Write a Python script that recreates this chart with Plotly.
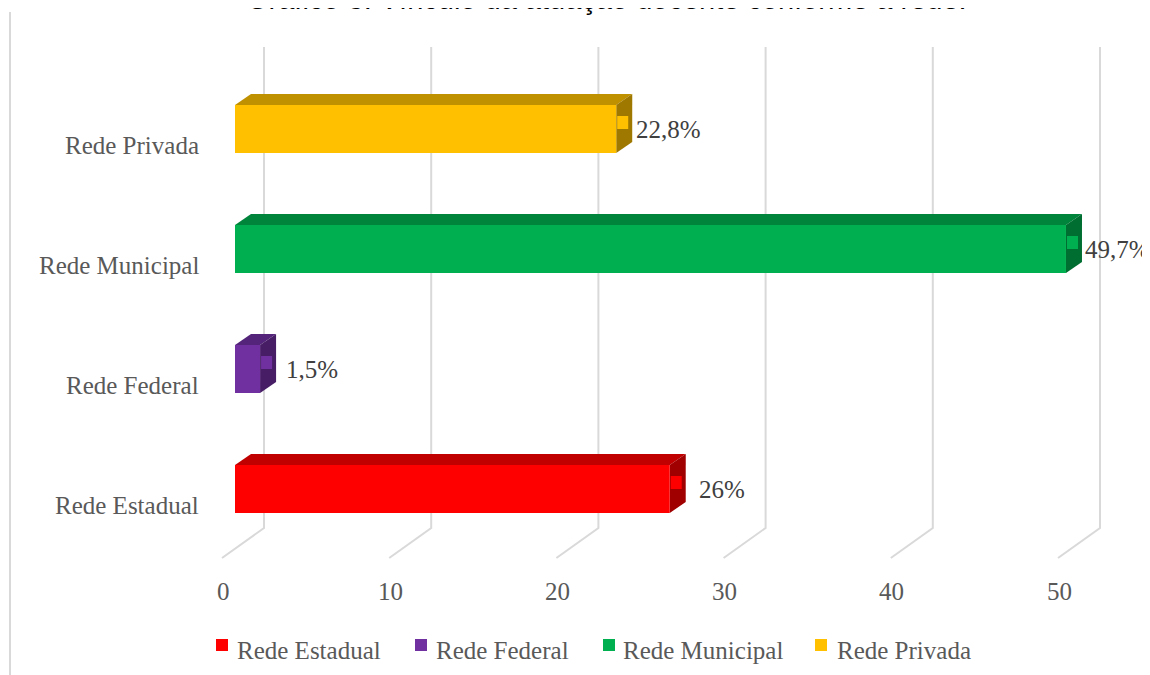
import plotly.graph_objects as go

# ---------------- data ----------------
categories = ["Rede Estadual", "Rede Federal", "Rede Municipal", "Rede Privada"]
values = [26.0, 1.5, 49.7, 22.8]
value_labels = ["26%", "1,5%", "49,7%", "22,8%"]
tick_values = [0, 10, 20, 30, 40, 50]
tick_labels = ["0", "10", "20", "30", "40", "50"]
title_text = "Gráfico 3: Vínculo da atuação docente conforme a rede."

front_colors = ["#FF0000", "#7030A0", "#00B050", "#FFC000"]
top_colors = ["#C00000", "#54247A", "#00843C", "#BF9000"]
side_colors = ["#A00000", "#471E66", "#006E30", "#9F7800"]

# ---------------- geometry (pixel scale helpers) ----------------
W, H = 1150, 675
OFF = 8          # page body margin
PX_X = 16.72     # pixels per value unit
PX_Y = 120.0     # pixels per category step
X0 = 235         # screen pixel x of value 0 at bar front
Y0 = 489         # screen pixel y of first category centre


def ux(px):
    return px / PX_X


def uy(px):
    return px / PX_Y


def ypx(p):  # absolute screen pixel y -> data y
    return (Y0 - p) / PX_Y


x_range = [(OFF - X0) / PX_X, (W + OFF - X0) / PX_X]
y_range = [(Y0 - H - OFF) / PX_Y, (Y0 - OFF) / PX_Y]

GRID = "#D9D9D9"
LABEL_FONT = "Liberation Serif, Cambria, serif"
FS = 25

fig = go.Figure()


def poly(xs, ys, color):
    fig.add_trace(go.Scatter(x=xs + [xs[0]], y=ys + [ys[0]], mode="lines", fill="toself",
                             fillcolor=color, line=dict(width=0, color=color),
                             hoverinfo="skip", showlegend=False))


# left chart border
fig.add_trace(go.Scatter(x=[ux(10 - X0), ux(10 - X0)], y=[ypx(12), ypx(690)], mode="lines",
                         line=dict(color=GRID, width=2), hoverinfo="skip", showlegend=False))

# back-wall grid lines and floor diagonals
back_dx = ux(29)
front_dx = ux(-13)
for v in tick_values:
    fig.add_trace(go.Scatter(
        x=[v + back_dx, v + back_dx, v + front_dx],
        y=[ypx(47), ypx(528), ypx(558)],
        mode="lines", line=dict(color=GRID, width=2),
        hoverinfo="skip", showlegend=False))

# 3D bars
hh = uy(24)
ddx = ux(16)
ddy = uy(11)
for i, (cat, v) in enumerate(zip(categories, values)):
    # top face
    poly([0, v, v + ddx, ddx], [i + hh, i + hh, i + hh + ddy, i + hh + ddy], top_colors[i])
    # right face
    poly([v, v + ddx, v + ddx, v], [i - hh, i - hh + ddy, i + hh + ddy, i + hh], side_colors[i])
    # front face
    poly([0, v, v, 0], [i - hh, i - hh, i + hh, i + hh], front_colors[i])
    # small marker on the side face
    poly([v + ux(1), v + ux(12), v + ux(12), v + ux(1)], [i, i, i + uy(13), i + uy(13)], front_colors[i])

annotations = []
# data labels
for i, (v, lab) in enumerate(zip(values, value_labels)):
    annotations.append(dict(x=v + ux(52), y=i, text=lab, showarrow=False, xanchor="center",
                            yanchor="middle", font=dict(family=LABEL_FONT, size=FS, color="#404040")))
# category labels
for i, cat in enumerate(categories):
    annotations.append(dict(x=ux(201 - X0), y=i - uy(16), text=cat, showarrow=False, xanchor="right",
                            yanchor="middle", font=dict(family=LABEL_FONT, size=FS, color="#595959")))
# tick labels
for v, t in zip(tick_values, tick_labels):
    annotations.append(dict(x=v + ux(-12), y=ypx(591), text=t, showarrow=False, xanchor="center",
                            yanchor="middle", font=dict(family=LABEL_FONT, size=FS, color="#595959")))

# legend (custom, horizontal)
leg_sq_px = [222, 421, 609, 821]
leg_tx_px = [235, 434, 621, 835]
fig.add_trace(go.Scatter(x=[ux(p - X0) for p in leg_sq_px], y=[ypx(645)] * 4, mode="markers",
                         marker=dict(symbol="square", size=12, color=front_colors, line=dict(width=0)),
                         hoverinfo="skip", showlegend=False))
for p, cat in zip(leg_tx_px, categories):
    annotations.append(dict(x=ux(p - X0), y=ypx(650), text=cat, showarrow=False, xanchor="left",
                            yanchor="middle", font=dict(family=LABEL_FONT, size=FS, color="#595959")))

# title (partially cut at the top edge) - paper coords so it is not hidden
title_center_screen_y = -1
annotations.append(dict(xref="paper", yref="paper",
                        x=(607 - OFF) / W, y=1 + (OFF - title_center_screen_y) / H,
                        text=title_text, showarrow=False, xanchor="center", yanchor="middle",
                        font=dict(family="Liberation Sans, Arial, sans-serif", size=29, color="#000000")))

fig.update_layout(
    width=W, height=H,
    margin=dict(l=0, r=0, t=0, b=0),
    paper_bgcolor="white", plot_bgcolor="white",
    xaxis=dict(range=x_range, visible=False, fixedrange=True),
    yaxis=dict(range=y_range, visible=False, fixedrange=True),
    annotations=annotations,
    showlegend=False,
)

fig.write_html("out.html")
